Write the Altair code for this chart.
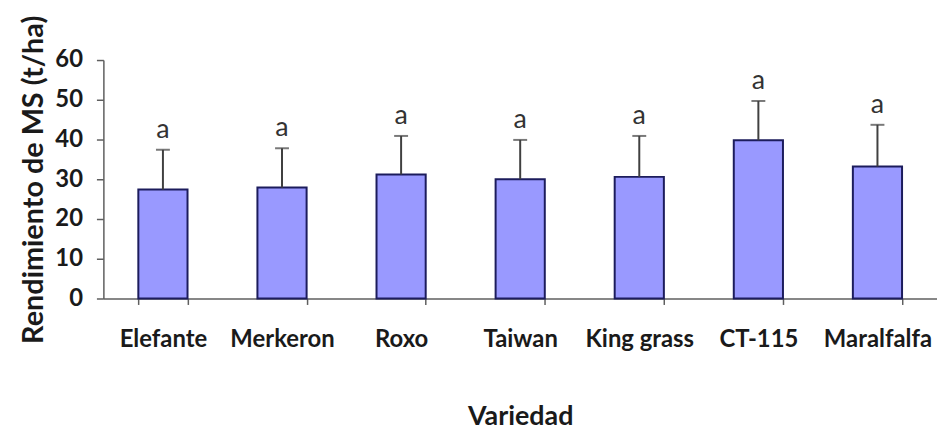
import altair as alt
import pandas as pd

variedades = ["Elefante", "Merkeron", "Roxo", "Taiwan", "King grass", "CT-115", "Maralfalfa"]
rendimiento = [27.4, 27.9, 31.2, 30.0, 30.6, 39.8, 33.2]
limite_superior = [37.4, 37.8, 40.9, 39.9, 40.9, 49.7, 43.7]
letras = ["a", "a", "a", "a", "a", "a", "a"]
y_ticks = [0, 10, 20, 30, 40, 50, 60]

df = pd.DataFrame({
    "Variedad": variedades,
    "Rendimiento": rendimiento,
    "Superior": limite_superior,
    "Letra": letras,
})

FONT = "Lato"
AXIS_COLOR = "#5f5f5f"

x_axis = alt.Axis(
    title="Variedad",
    labelAngle=0,
    tickBand="extent",
    tickSize=6,
    tickColor=AXIS_COLOR,
    tickWidth=1.5,
    domainColor=AXIS_COLOR,
    domainWidth=1.5,
    labelFont=FONT,
    labelFontSize=24,
    labelFontWeight="bold",
    labelColor="#1a1a1a",
    labelPadding=23,
    titleFont=FONT,
    titleFontSize=27,
    titleFontWeight="bold",
    titleColor="#1a1a1a",
    titleY=127,
    titleBaseline="alphabetic",
)

y_axis = alt.Axis(
    title="Rendimiento de MS (t/ha)",
    values=y_ticks,
    grid=False,
    tickSize=7,
    tickColor=AXIS_COLOR,
    tickWidth=1.5,
    domainColor=AXIS_COLOR,
    domainWidth=1.5,
    labelFont=FONT,
    labelFontSize=24,
    labelFontWeight="bold",
    labelColor="#1a1a1a",
    labelPadding=14,
    titleFont=FONT,
    titleFontSize=29,
    titleFontWeight="bold",
    titleColor="#1a1a1a",
    titlePadding=6,
)

x_scale = alt.Scale(paddingInner=0.587, paddingOuter=0.2935)
y_scale = alt.Scale(domain=[0, 60], nice=False)

base = alt.Chart(df)

bars = base.mark_bar(color="#9999ff", stroke="#1c1c5c", strokeWidth=2).encode(
    x=alt.X("Variedad:N", sort=variedades, scale=x_scale, axis=x_axis),
    y=alt.Y("Rendimiento:Q", scale=y_scale, axis=y_axis),
)

err = base.mark_rule(color="#404040", strokeWidth=2).encode(
    x=alt.X("Variedad:N", sort=variedades, scale=x_scale, axis=x_axis),
    y=alt.Y("Rendimiento:Q", scale=y_scale, axis=y_axis),
    y2="Superior:Q",
)

cap = base.mark_tick(color="#404040", thickness=2, size=14).encode(
    x=alt.X("Variedad:N", sort=variedades, scale=x_scale, axis=x_axis),
    y=alt.Y("Superior:Q", scale=y_scale, axis=y_axis),
)

txt = base.mark_text(font=FONT, fontSize=27, color="#333333", dy=-20, baseline="middle").encode(
    x=alt.X("Variedad:N", sort=variedades, scale=x_scale, axis=x_axis),
    y=alt.Y("Superior:Q", scale=y_scale, axis=y_axis),
    text="Letra:N",
)

chart = alt.layer(bars, err, cap, txt).properties(
    width=839,
    height=240,
    autosize=alt.AutoSizeParams(type="none"),
    padding={"left": 96, "top": 51, "right": 0, "bottom": 133},
    background="white",
).configure_view(stroke=None)

chart.save("out.html", embed_options={"renderer": "svg", "actions": False})
